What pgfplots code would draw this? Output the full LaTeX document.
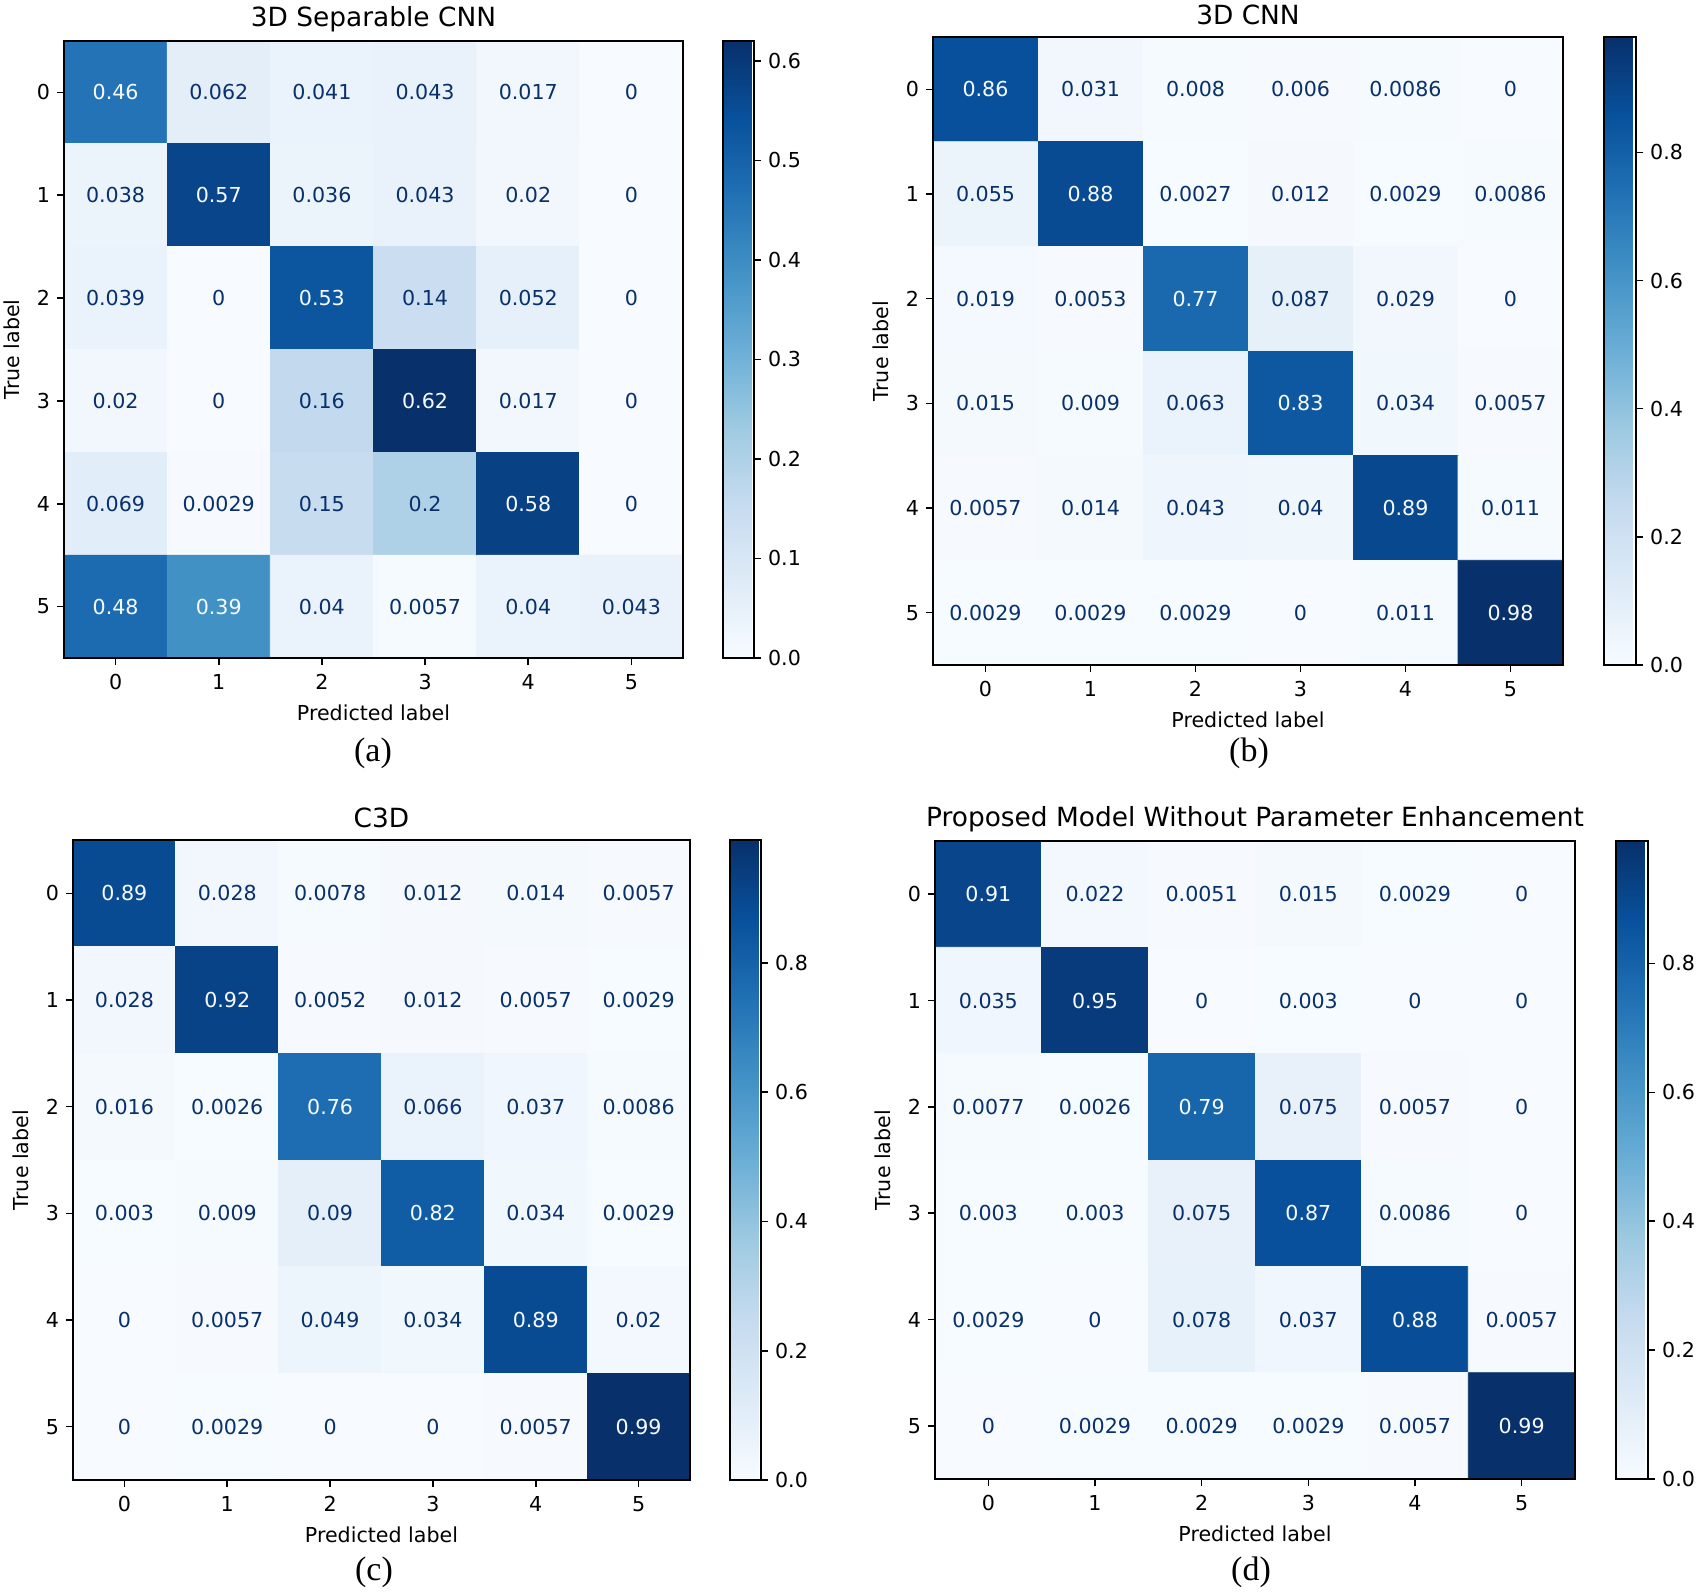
\documentclass[border=0pt]{standalone}
\usepackage{pgfplots}
\pgfplotsset{compat=1.18}
\usepackage{pgfplotstable}
\usepackage{fontspec}
\setmainfont{DejaVu Sans}
\newfontfamily\capfont{Liberation Serif}

\definecolor{hiTxt}{RGB}{247,251,255}
\definecolor{loTxt}{RGB}{8,48,107}
\newcommand\fsz{\fontsize{10.3pt}{12pt}\selectfont}
\newcommand\tsz{\fontsize{13.2pt}{15pt}\selectfont}

% cell text: light on dark cells, dark on light cells
\newcommand\cell[2]{\pgfmathtruncatemacro\hi{#1>#2}\ifnum\hi=1 \color{hiTxt}\else\color{loTxt}\fi#1}

% t = true label, p = predicted label, v = normalised count
\pgfplotstableread[row sep=\\]{
t p v\\
0 0 0.46\\ 0 1 0.062\\ 0 2 0.041\\ 0 3 0.043\\ 0 4 0.017\\ 0 5 0\\
1 0 0.038\\ 1 1 0.57\\ 1 2 0.036\\ 1 3 0.043\\ 1 4 0.02\\ 1 5 0\\
2 0 0.039\\ 2 1 0\\ 2 2 0.53\\ 2 3 0.14\\ 2 4 0.052\\ 2 5 0\\
3 0 0.02\\ 3 1 0\\ 3 2 0.16\\ 3 3 0.62\\ 3 4 0.017\\ 3 5 0\\
4 0 0.069\\ 4 1 0.0029\\ 4 2 0.15\\ 4 3 0.2\\ 4 4 0.58\\ 4 5 0\\
5 0 0.48\\ 5 1 0.39\\ 5 2 0.04\\ 5 3 0.0057\\ 5 4 0.04\\ 5 5 0.043\\
}\tA

\pgfplotstableread[row sep=\\]{
t p v\\
0 0 0.86\\ 0 1 0.031\\ 0 2 0.008\\ 0 3 0.006\\ 0 4 0.0086\\ 0 5 0\\
1 0 0.055\\ 1 1 0.88\\ 1 2 0.0027\\ 1 3 0.012\\ 1 4 0.0029\\ 1 5 0.0086\\
2 0 0.019\\ 2 1 0.0053\\ 2 2 0.77\\ 2 3 0.087\\ 2 4 0.029\\ 2 5 0\\
3 0 0.015\\ 3 1 0.009\\ 3 2 0.063\\ 3 3 0.83\\ 3 4 0.034\\ 3 5 0.0057\\
4 0 0.0057\\ 4 1 0.014\\ 4 2 0.043\\ 4 3 0.04\\ 4 4 0.89\\ 4 5 0.011\\
5 0 0.0029\\ 5 1 0.0029\\ 5 2 0.0029\\ 5 3 0\\ 5 4 0.011\\ 5 5 0.98\\
}\tB

\pgfplotstableread[row sep=\\]{
t p v\\
0 0 0.89\\ 0 1 0.028\\ 0 2 0.0078\\ 0 3 0.012\\ 0 4 0.014\\ 0 5 0.0057\\
1 0 0.028\\ 1 1 0.92\\ 1 2 0.0052\\ 1 3 0.012\\ 1 4 0.0057\\ 1 5 0.0029\\
2 0 0.016\\ 2 1 0.0026\\ 2 2 0.76\\ 2 3 0.066\\ 2 4 0.037\\ 2 5 0.0086\\
3 0 0.003\\ 3 1 0.009\\ 3 2 0.09\\ 3 3 0.82\\ 3 4 0.034\\ 3 5 0.0029\\
4 0 0\\ 4 1 0.0057\\ 4 2 0.049\\ 4 3 0.034\\ 4 4 0.89\\ 4 5 0.02\\
5 0 0\\ 5 1 0.0029\\ 5 2 0\\ 5 3 0\\ 5 4 0.0057\\ 5 5 0.99\\
}\tC

\pgfplotstableread[row sep=\\]{
t p v\\
0 0 0.91\\ 0 1 0.022\\ 0 2 0.0051\\ 0 3 0.015\\ 0 4 0.0029\\ 0 5 0\\
1 0 0.035\\ 1 1 0.95\\ 1 2 0\\ 1 3 0.003\\ 1 4 0\\ 1 5 0\\
2 0 0.0077\\ 2 1 0.0026\\ 2 2 0.79\\ 2 3 0.075\\ 2 4 0.0057\\ 2 5 0\\
3 0 0.003\\ 3 1 0.003\\ 3 2 0.075\\ 3 3 0.87\\ 3 4 0.0086\\ 3 5 0\\
4 0 0.0029\\ 4 1 0\\ 4 2 0.078\\ 4 3 0.037\\ 4 4 0.88\\ 4 5 0.0057\\
5 0 0\\ 5 1 0.0029\\ 5 2 0.0029\\ 5 3 0.0029\\ 5 4 0.0057\\ 5 5 0.99\\
}\tD

\pgfplotsset{
  colormap={blues}{rgb255=(247,251,255) rgb255=(222,235,247) rgb255=(198,219,239)
    rgb255=(158,202,225) rgb255=(107,174,214) rgb255=(66,146,198)
    rgb255=(33,113,181) rgb255=(8,81,156) rgb255=(8,48,107)},
  cm/.style={
    scale only axis, anchor=south west,
    xmin=-0.5, xmax=5.5, ymin=-0.5, ymax=5.5, enlargelimits=false,
    xtick={0,...,5}, ytick={0,...,5}, yticklabels={5,4,3,2,1,0},
    xtick pos=left, ytick pos=left, tick align=outside, major tick length=3.5pt,
    every tick/.style={black, line width=0.8pt},
    axis line style={line width=0.8pt},
    axis on top,
    colormap name=blues, colorbar, point meta min=0,
    /pgf/number format/assume math mode=true,
    tick label style={font=\fsz},
    xticklabel style={yshift=-1pt},
    xlabel=Predicted label, ylabel=True label,
    label style={font=\fsz},
    xlabel style={at={([yshift=-27.5pt]axis description cs:0.5,0)}, anchor=center},
    ylabel style={at={([xshift=-26pt]axis description cs:0,0.5)}, anchor=center},
    title style={at={([yshift=5pt]axis description cs:0.5,1)}, anchor=center, font=\tsz},
    colorbar style={
      at={(parent axis.north east)}, anchor=north west, xshift=11.5pt,
      scale only axis, width=15.5pt,
      ytick pos=right, yticklabel pos=right, tick align=outside, major tick length=3.5pt,
      every tick/.style={black, line width=0.8pt},
      axis line style={line width=0.8pt},
      /pgf/number format/assume math mode=true,
      yticklabel={\pgfmathprintnumber[fixed,fixed zerofill,precision=1]{\tick}},
      yticklabel style={font=\fsz},
    },
  },
  cellnodes/.style={
    only marks, mark=none, point meta=explicit symbolic,
    nodes near coords={\cell{\pgfplotspointmeta}{#1}},
    every node near coord/.append style={anchor=center, font=\fsz},
  },
}

\begin{document}
\begin{tikzpicture}
\useasboundingbox (0,0) rectangle (850.5pt,796pt);

% (a)
\begin{axis}[cm, at={(32pt,467pt)}, width=309.5pt, height=308.5pt,
  title={3D Separable CNN}, point meta max=0.62,
  colorbar style={width=15.5pt, ytick={0,0.1,0.2,0.3,0.4,0.5,0.6}}]
\addplot[matrix plot*, mesh/cols=6, point meta=explicit] table[x=p, y expr=5-\thisrow{t}, meta=v] \tA;
\addplot[cellnodes=0.31] table[x=p, y expr=5-\thisrow{t}, meta=v] \tA;
\end{axis}

% (b)
\begin{axis}[cm, at={(466.5pt,463.5pt)}, width=315pt, height=314pt,
  title={3D CNN}, point meta max=0.98,
  colorbar style={xshift=0.5pt, width=16pt, ytick={0,0.2,0.4,0.6,0.8}}]
\addplot[matrix plot*, mesh/cols=6, point meta=explicit] table[x=p, y expr=5-\thisrow{t}, meta=v] \tB;
\addplot[cellnodes=0.49] table[x=p, y expr=5-\thisrow{t}, meta=v] \tB;
\end{axis}

% (c)
\begin{axis}[cm, at={(36.5pt,56pt)}, width=308.5pt, height=320pt,
  title={C3D}, point meta max=0.99,
  colorbar style={width=15.5pt, ytick={0,0.2,0.4,0.6,0.8}}]
\addplot[matrix plot*, mesh/cols=6, point meta=explicit] table[x=p, y expr=5-\thisrow{t}, meta=v] \tC;
\addplot[cellnodes=0.495] table[x=p, y expr=5-\thisrow{t}, meta=v] \tC;
\end{axis}

% (d)
\begin{axis}[cm, at={(467.5pt,56.5pt)}, width=320pt, height=319pt,
  title={Proposed Model Without Parameter Enhancement}, point meta max=0.99,
  colorbar style={xshift=0.5pt, width=16pt, ytick={0,0.2,0.4,0.6,0.8}}]
\addplot[matrix plot*, mesh/cols=6, point meta=explicit] table[x=p, y expr=5-\thisrow{t}, meta=v] \tD;
\addplot[cellnodes=0.495] table[x=p, y expr=5-\thisrow{t}, meta=v] \tD;
\end{axis}

\begin{scope}[every node/.style={font=\capfont\fontsize{17pt}{20pt}\selectfont}]
\node at (186.5pt,419.5pt) {(a)};
\node at (624.5pt,419.5pt) {(b)};
\node at (187pt,10pt) {(c)};
\node at (625.5pt,10pt) {(d)};
\end{scope}
\end{tikzpicture}
\end{document}
